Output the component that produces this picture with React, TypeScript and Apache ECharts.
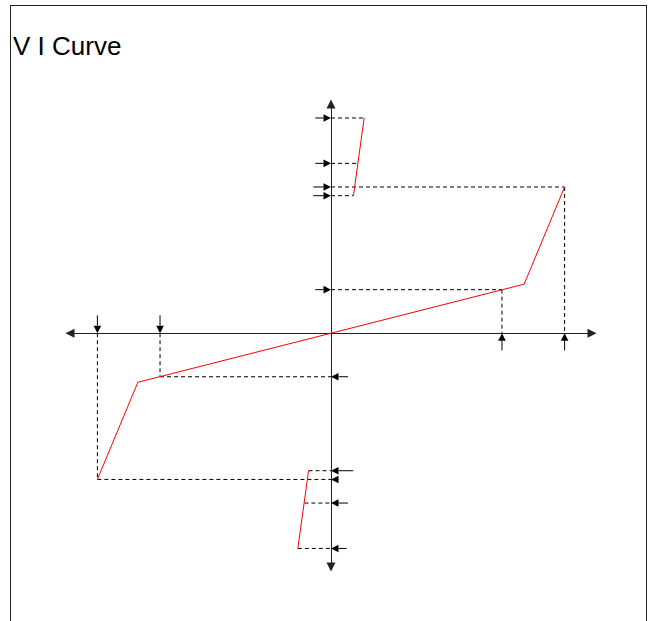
import React, { useEffect, useRef } from "react";
import * as echarts from "echarts";

// Axis ranges (arbitrary V / I units)
const xRange = [-10, 10];
const yRange = [-10.2, 10];

// Red V-I characteristic pieces
const curveMain: number[][] = [
  [-8.95, -6.38],
  [-7.4, -2.14],
  [0, 0],
  [7.4, 2.14],
  [8.95, 6.38],
];
const curveUpper: number[][] = [
  [0.86, 6.0],
  [1.27, 9.39],
];
const curveLower: number[][] = [
  [-0.86, -6.0],
  [-1.27, -9.39],
];

// Dashed projection segments
const dashedSegments: number[][][] = [
  [[0, 9.39], [1.27, 9.39]],
  [[0, 7.41], [1.02, 7.41]],
  [[0, 6.38], [8.95, 6.38]],
  [[0, 6.0], [0.86, 6.0]],
  [[0, 1.9], [6.55, 1.9]],
  [[6.55, 1.9], [6.55, 0]],
  [[8.95, 6.38], [8.95, 0]],
  [[-6.55, -1.9], [0, -1.9]],
  [[-6.55, 0], [-6.55, -1.9]],
  [[-8.95, 0], [-8.95, -6.38]],
  [[-8.95, -6.38], [0, -6.38]],
  [[-0.86, -6.0], [0, -6.0]],
  [[-1.02, -7.41], [0, -7.41]],
  [[-1.27, -9.39], [0, -9.39]],
];

// Arrow markers: [tipX, tipY, tailX, tailY]
const arrowMarks: number[][] = [
  [0, 9.39, -0.6, 9.39],
  [0, 7.41, -0.6, 7.41],
  [0, 6.38, -0.68, 6.38],
  [0, 6.0, -0.68, 6.0],
  [0, 1.9, -0.6, 1.9],
  [0, -1.9, 0.65, -1.9],
  [0, -6.0, 0.85, -6.0],
  [0, -6.38, 0.3, -6.38],
  [0, -7.41, 0.65, -7.41],
  [0, -9.39, 0.6, -9.39],
  [-8.95, 0, -8.95, 0.78],
  [-6.55, 0, -6.55, 0.78],
  [6.55, 0, 6.55, -0.75],
  [8.95, 0, 8.95, -0.75],
];

const titleText = "V I Curve";

export default function App() {
  const ref = useRef<HTMLDivElement>(null);

  useEffect(() => {
    if (!ref.current) return;
    const chart = echarts.init(ref.current, undefined, { renderer: "svg" });

    const dashedSeries = dashedSegments.map((seg) => ({
      type: "line",
      data: seg,
      symbol: "none",
      silent: true,
      z: 2,
      lineStyle: { color: "#000", width: 1, type: [4, 3] },
    }));

    const redStyle = { color: "#ff0000", width: 1 };

    const option: any = {
      animation: false,
      title: {
        text: titleText,
        left: 13,
        top: 33,
        padding: 0,
        textStyle: {
          fontSize: 26,
          fontWeight: "normal",
          color: "#000",
          fontFamily: "Liberation Sans",
        },
      },
      grid: { left: 70, right: 60, top: 104, bottom: 54 },
      xAxis: {
        type: "value",
        min: xRange[0],
        max: xRange[1],
        axisLine: {
          onZero: true,
          symbol: ["triangle", "triangle"],
          symbolSize: [9, 9],
          lineStyle: { color: "#222", width: 1 },
        },
        axisTick: { show: false },
        axisLabel: { show: false },
        splitLine: { show: false },
      },
      yAxis: {
        type: "value",
        min: yRange[0],
        max: yRange[1],
        axisLine: {
          onZero: true,
          symbol: ["triangle", "triangle"],
          symbolSize: [9, 9],
          lineStyle: { color: "#222", width: 1 },
        },
        axisTick: { show: false },
        axisLabel: { show: false },
        splitLine: { show: false },
      },
      series: [
        ...dashedSeries,
        {
          type: "line",
          data: curveMain,
          symbol: "none",
          z: 3,
          lineStyle: redStyle,
        },
        {
          type: "line",
          data: curveUpper,
          symbol: "none",
          z: 3,
          lineStyle: redStyle,
        },
        {
          type: "line",
          data: curveLower,
          symbol: "none",
          z: 3,
          lineStyle: redStyle,
        },
        {
          type: "custom",
          coordinateSystem: "cartesian2d",
          data: arrowMarks,
          encode: { x: [0, 2], y: [1, 3] },
          z: 4,
          silent: true,
          renderItem: (params: any, api: any) => {
            const tip = api.coord([api.value(0), api.value(1)]);
            const tail = api.coord([api.value(2), api.value(3)]);
            const dx = tip[0] - tail[0];
            const dy = tip[1] - tail[1];
            const len = Math.sqrt(dx * dx + dy * dy) || 1;
            const ux = dx / len;
            const uy = dy / len;
            const hl = 7.5;
            const hw = 3.8;
            const bx = tip[0] - ux * hl;
            const by = tip[1] - uy * hl;
            return {
              type: "group",
              children: [
                {
                  type: "line",
                  shape: { x1: tail[0], y1: tail[1], x2: bx, y2: by },
                  style: { stroke: "#000", lineWidth: 1 },
                },
                {
                  type: "polygon",
                  shape: {
                    points: [
                      [tip[0], tip[1]],
                      [bx - uy * hw, by + ux * hw],
                      [bx + uy * hw, by - ux * hw],
                    ],
                  },
                  style: { fill: "#000" },
                },
              ],
            };
          },
        },
      ],
    };

    chart.setOption(option);
    return () => chart.dispose();
  }, []);

  return (
    <div
      style={{
        position: "absolute",
        left: 0,
        top: 0,
        width: 652,
        height: 621,
        overflow: "hidden",
        background: "#fff",
      }}
    >
      <div ref={ref} style={{ position: "absolute", left: 0, top: 0, width: 652, height: 621 }} />
      <div
        style={{
          position: "absolute",
          left: 10,
          top: 5,
          width: 637,
          height: 700,
          boxSizing: "border-box",
          border: "1px solid #222",
          pointerEvents: "none",
        }}
      />
    </div>
  );
}
